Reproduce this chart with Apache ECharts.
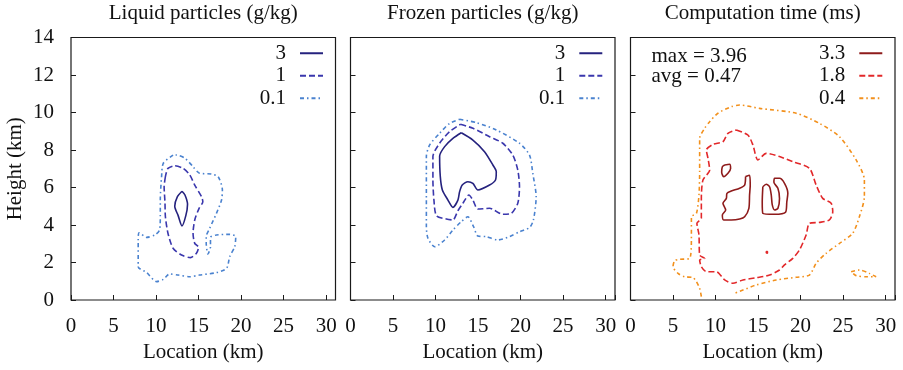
<!DOCTYPE html>
<html><head><meta charset="utf-8">
<script src="https://cdn.jsdelivr.net/npm/echarts@6/dist/echarts.min.js"></script>
<style>html,body{margin:0;padding:0;background:#fff}#c{width:903px;height:370px}</style>
</head><body><div id="c"></div>
<script>
const panelTitles = ['Liquid particles (g/kg)', 'Frozen particles (g/kg)', 'Computation time (ms)'];
const xTicks = [0, 5, 10, 15, 20, 25, 30];
const yTicks = [0, 2, 4, 6, 8, 10, 12, 14];
const xAxisName = 'Location (km)';
const yAxisName = 'Height (km)';
const levelsWater = ['3', '1', '0.1'];
const levelsTime = ['3.3', '1.8', '0.4'];
const statsLabels = ['max = 3.96', 'avg = 0.47'];

// Liquid particles contours
const liquid3 = [[13.05,5.8],[13.4,5.6],[13.7,5.1],[13.5,4.5],[13.05,3.95],[12.6,4.5],[12.2,5.0],[12.5,5.5],[13.05,5.8]];
const liquid1 = [[11.1,6.58],[10.95,6.04],[11.05,5.2],[11.1,4.44],[11.4,3.56],[12.0,2.76],[13.0,2.4],[14.05,2.26],[14.75,2.49],[15.0,2.81],[14.55,3.02],[14.35,3.56],[14.55,4.27],[15.06,4.89],[15.5,5.24],[15.35,5.51],[14.55,6.13],[13.97,6.67],[13.2,7.02],[12.2,7.16],[11.4,7.02],[11.1,6.58]];
const liquid01 = [[12.0,7.73],[10.85,7.29],[10.65,6.58],[10.5,5.33],[10.5,4.44],[10.4,3.73],[9.86,3.47],[8.9,3.34],[8.0,3.59],[7.9,3.2],[7.9,1.78],[8.9,1.46],[10.06,0.98],[10.85,1.1],[11.6,1.39],[12.6,1.33],[13.97,1.24],[15.1,1.33],[17.1,1.46],[18.3,1.69],[18.66,2.31],[19.25,2.84],[19.37,3.38],[18.66,3.5],[17.1,3.47],[16.4,3.34],[16.4,2.84],[16.1,2.45],[15.9,3.02],[15.9,3.38],[16.3,3.82],[17.1,4.62],[17.7,5.33],[17.8,5.87],[17.3,6.58],[16.5,6.72],[15.1,6.76],[14.35,7.11],[13.4,7.56],[12.4,7.73],[12.0,7.73]];

// Frozen particles contours
const frozen3 = [[13.03,8.92],[14.39,8.53],[15.76,7.91],[16.74,7.2],[17.14,6.84],[17.05,6.4],[16.35,6.13],[14.98,5.87],[14.39,6.22],[13.8,6.31],[13.14,6.13],[12.83,5.78],[12.63,5.33],[12.04,4.94],[11.46,5.33],[10.8,5.87],[10.56,6.58],[10.48,7.68],[11.07,8.18],[12.04,8.62],[13.03,8.92]];
const frozen1 = [[12.91,9.37],[14.39,9.16],[16.35,8.71],[17.91,8.36],[19.08,7.73],[19.67,6.93],[19.87,6.04],[19.67,5.16],[18.9,4.62],[17.91,4.57],[16.35,4.89],[14.98,4.85],[14.39,5.33],[13.92,5.6],[13.22,5.16],[12.63,4.76],[12.04,4.27],[11.27,4.32],[10.1,4.5],[9.81,5.33],[9.69,6.4],[9.69,7.65],[10.48,8.36],[11.65,8.98],[12.91,9.37]];
const frozen01 = [[12.83,9.64],[14.79,9.46],[17.14,9.07],[19.87,8.36],[21.05,7.73],[21.43,6.76],[21.83,5.51],[21.51,4.27],[21.05,3.86],[19.87,3.64],[18.7,3.38],[17.32,3.2],[15.96,3.38],[14.98,3.41],[14.47,3.91],[13.8,4.44],[13.03,4.18],[12.04,3.73],[11.07,3.2],[9.9,2.84],[9.11,3.29],[8.92,3.91],[8.92,5.33],[8.92,7.65],[9.31,8.27],[10.48,8.89],[11.65,9.42],[12.83,9.64]];

// Computation time contours
const time33a = [[11.07,7.2],[11.65,7.24],[11.77,7.02],[11.46,6.76],[10.95,6.58],[10.72,6.81],[10.8,7.11],[11.07,7.2]];
const time33b = [[13.53,6.58],[14.0,6.65],[14.08,6.13],[14.0,5.6],[13.92,4.89],[13.42,4.44],[12.83,4.32],[11.85,4.27],[10.95,4.27],[10.8,4.53],[11.19,4.8],[10.87,5.16],[11.27,5.42],[11.34,5.69],[11.85,5.81],[12.83,5.96],[13.42,6.13],[13.53,6.58]];
const time33c = [[15.56,6.04],[15.49,5.24],[15.56,4.62],[16.94,4.57],[18.23,4.68],[18.38,5.24],[18.5,5.69],[18.11,6.22],[17.52,6.49],[16.94,6.49],[16.86,6.28],[17.33,5.96],[17.52,5.42],[17.33,4.89],[16.94,4.8],[16.67,5.07],[16.55,5.6],[16.35,6.04],[15.96,6.17],[15.56,6.04]];
const time18a = [[12.44,9.07],[13.8,8.8],[14.39,8.27],[14.98,7.47],[15.96,7.82],[17.52,7.65],[19.08,7.38],[21.04,7.02],[21.83,6.13],[22.6,5.42],[23.59,5.16],[23.78,4.71],[23.39,4.27],[22.22,4.14],[21.04,4.09],[20.65,3.47],[19.87,2.67],[19.08,2.22],[18.11,1.87],[17.52,1.6],[16.35,1.33],[14.79,1.19],[13.22,1.07],[12.04,0.89],[11.07,1.07],[10.09,1.51],[8.92,1.51],[8.33,1.78],[8.13,2.13],[8.72,2.22],[8.13,2.4],[8.05,3.47],[7.81,4.09],[8.33,4.36],[8.33,5.42],[8.52,6.4],[9.31,6.93],[9.11,7.56],[8.92,8.0],[9.7,8.3],[10.87,8.44],[11.46,8.89],[12.44,9.07]];
const time18b = [[15.97,2.49],[16.1,2.49],[16.1,2.59],[15.97,2.59],[15.97,2.49]];
const time04a = [[8.33,0.18],[8.13,0.62],[7.75,0.98],[7.35,1.19],[6.37,1.24],[5.59,1.42],[5.0,1.78],[5.2,2.1],[5.79,2.17],[6.96,2.22],[7.16,3.29],[7.16,4.44],[7.75,4.62],[8.05,5.6],[8.13,6.84],[8.13,8.62],[8.72,9.16],[9.31,9.51],[10.28,9.96],[11.85,10.31],[12.83,10.4],[15.18,10.22],[19.48,9.96],[22.22,9.42],[24.57,8.71],[26.53,7.47],[27.5,6.4],[27.5,5.51],[26.91,4.44],[26.13,3.56],[24.57,3.02],[23.0,2.49],[21.83,1.96],[21.04,1.33],[19.48,1.21],[17.14,1.07],[14.79,0.8],[13.22,0.53],[12.04,0.32]];
const time04b = [[25.94,1.51],[26.91,1.6],[28.09,1.42],[28.87,1.24],[27.7,1.24],[26.53,1.3],[25.94,1.51]];

const FONT = '"Liberation Serif", "DejaVu Serif", serif';
const INK = '#111';
const styleWater = {
  '3':   {color: '#25227e', type: 'solid', width: 1.6},
  '1':   {color: '#3a37ad', type: [6, 3], width: 1.6},
  '0.1': {color: '#4a82cf', type: [4, 3, 1.5, 3], width: 1.6}
};
const styleTime = {
  '3.3': {color: '#8e1b1b', type: 'solid', width: 1.6},
  '1.8': {color: '#e2282a', type: [6, 3], width: 1.6},
  '0.4': {color: '#f2901c', type: [4, 3, 1.5, 3], width: 1.6}
};

const panelSeries = [
  [['3', liquid3], ['1', liquid1], ['0.1', liquid01]],
  [['3', frozen3], ['1', frozen1], ['0.1', frozen01]],
  [['3.3', time33a], ['3.3', time33b], ['3.3', time33c], ['1.8', time18a], ['1.8', time18b], ['0.4', time04a], ['0.4', time04b]]
];
const panelStyles = [styleWater, styleWater, styleTime];
const panelLevels = [levelsWater, levelsWater, levelsTime];

const gridLefts = [71, 350.5, 630.5];
const legendRights = [579, 299.7, 19.7];
const textBase = {fontFamily: FONT, fontSize: 21, color: INK};

const series = [];
panelSeries.forEach((list, p) => {
  list.forEach(([name, pts]) => {
    const st = panelStyles[p][name];
    series.push({
      type: 'line', name: name, xAxisIndex: p, yAxisIndex: p,
      data: pts, symbol: 'none', smooth: 0.25, silent: true,
      lineStyle: {color: st.color, width: st.width, type: st.type},
      itemStyle: {color: st.color}
    });
  });
});

const option = {
  animation: false,
  backgroundColor: '#fff',
  title: panelTitles.map((t, i) => ({
    text: t, left: gridLefts[i] + 132.25, top: 3, textAlign: 'center', padding: 0,
    textStyle: Object.assign({}, textBase, {fontWeight: 'normal'})
  })).concat([{
    text: statsLabels.join('\n'), left: 651.5, top: 46.5, padding: 0,
    textStyle: Object.assign({}, textBase, {fontWeight: 'normal', lineHeight: 20})
  }]),
  grid: gridLefts.map(l => ({
    left: l, top: 37.5, width: 264.5, height: 262.5, show: true,
    borderColor: '#1a1a1a', borderWidth: 1.2, backgroundColor: 'transparent', containLabel: false
  })),
  xAxis: gridLefts.map((l, i) => ({
    type: 'value', gridIndex: i, min: 0, max: 31.1, interval: 5,
    axisLine: {show: false},
    axisTick: {inside: true, length: 5, lineStyle: {color: '#1a1a1a', width: 1}},
    splitLine: {show: false},
    axisLabel: Object.assign({margin: 16, formatter: v => xTicks.includes(v) ? String(v) : ''}, textBase),
    name: xAxisName, nameLocation: 'middle', nameGap: 39,
    nameTextStyle: textBase
  })),
  yAxis: gridLefts.map((l, i) => ({
    type: 'value', gridIndex: i, min: 0, max: 14, interval: 2,
    axisLine: {show: false},
    axisTick: {inside: true, length: 5, lineStyle: {color: '#1a1a1a', width: 1}},
    splitLine: {show: false},
    axisLabel: Object.assign({show: i === 0, margin: 17, formatter: v => yTicks.includes(v) ? String(v) : ''}, textBase),
    name: i === 0 ? yAxisName : '', nameLocation: 'middle', nameGap: 45, nameRotate: 90,
    nameTextStyle: textBase
  })),
  legend: panelLevels.map((lv, i) => ({
    data: lv, orient: 'vertical', align: 'right', right: legendRights[i], top: 42,
    padding: 0, itemGap: 0, itemWidth: 23, itemHeight: 14, selectedMode: false,
    itemStyle: {opacity: 0},
    textStyle: Object.assign({lineHeight: 22.5, padding: [0, 9, 0, 0]}, textBase)
  })),
  series: series
};

const chart = echarts.init(document.getElementById('c'), null, {renderer: 'canvas'});
chart.setOption(option);
</script>
</body></html>
